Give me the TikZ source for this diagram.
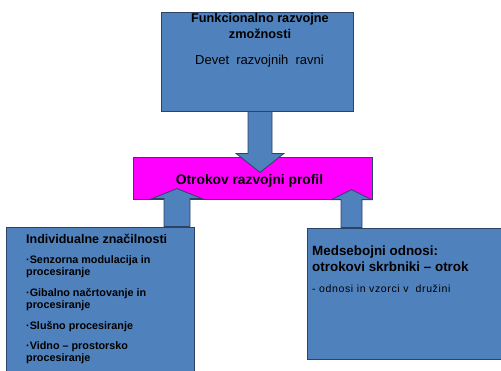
\documentclass[tikz,border=0pt]{standalone}
\usepackage{fontspec}
\setmainfont{Liberation Sans}
\newfontfamily\widefont[LetterSpace=6]{Liberation Sans}
\usetikzlibrary{positioning,calc}
\definecolor{boxblue}{HTML}{4F81BD}
\definecolor{boxline}{HTML}{2C4365}
\definecolor{pinkfill}{RGB}{255,0,255}
\tikzset{box/.style={draw=boxline, fill=boxblue, line width=0.8pt, inner sep=0pt},
         profilbox/.style={box, fill=pinkfill},
         fatarrow/.style={draw=boxline, fill=boxblue, line width=0.8pt},
         txt/.style={anchor=base, inner sep=0pt},
         ltxt/.style={anchor=base west, inner sep=0pt}}
\newcommand{\smallb}{\fontsize{10.8}{12}\selectfont\bfseries}

\begin{document}
\begin{tikzpicture}[x=1pt,y=-1pt]
\useasboundingbox (0,0) rectangle (501,370);
\clip (0,0) rectangle (501,370);

% boxes
\node[box, minimum width=192, minimum height=99] (func) at (257,61.5) {};
\node[profilbox, minimum width=239, minimum height=42] (profil) at (252.5,178) {};
\node[box, minimum width=188, minimum height=160] (indiv) at (100,307) {};
\node[box, minimum width=210, minimum height=131] (odnosi) at (412,293.5) {};

% fat arrows
\coordinate (down) at ($(func.south)+(3,0)$);
\draw[fatarrow] (down) ++(-12,0) -- ++(0,42) -- ++(-12,0) -- ++(24,19)
   -- ++(24,-19) -- ++(-12,0) -- ++(0,-42) -- cycle;
\coordinate (upl) at ($(indiv.north)+(77,0)$);
\draw[fatarrow] (upl) ++(-13,0) -- ++(0,-28) -- ++(-12,0) -- ++(25,-10)
   -- ++(25,10) -- ++(-12,0) -- ++(0,28) -- cycle;
\coordinate (upr) at ($(odnosi.north)+(-60.5,0)$);
\draw[fatarrow] (upr) ++(-10.5,0) -- ++(0,-28) -- ++(-9.5,0) -- ++(20,-10)
   -- ++(20,10) -- ++(-9.5,0) -- ++(0,28) -- cycle;

% texts
\node[txt] (f1) at (260,22) {\fontsize{12.7}{15}\selectfont\bfseries Funkcionalno razvojne};
\node[txt] (f2) at (260,38) {\fontsize{12.7}{15}\selectfont\bfseries zmožnosti};
\node[txt] (f3) at (259.5,64) {\fontsize{13}{15}\selectfont Devet\ \ razvojnih\ \ ravni};
\node[txt] (p1) at (249.5,184) {\fontsize{13.8}{16}\selectfont\bfseries Otrokov razvojni profil};

\node[ltxt] (i0) at (26,243) {\fontsize{12.5}{14}\selectfont\bfseries Individualne značilnosti};
\foreach \y/\t [count=\n] in {263/·Senzorna modulacija in, 275/procesiranje,
    296/·Gibalno načrtovanje in, 308/procesiranje, 329/·Slušno procesiranje,
    349/·Vidno – prostorsko, 361/procesiranje}
  \node[ltxt] (i\n) at (26,\y) {\smallb \t};

\node[ltxt] (o1) at (312,255) {\fontsize{13.4}{15}\selectfont\bfseries Medsebojni odnosi:};
\node[ltxt] (o2) at (312,271) {\fontsize{13.4}{15}\selectfont\bfseries otrokovi skrbniki – otrok};
\node[ltxt] (o3) at (312,292) {\widefont\fontsize{10.5}{12}\selectfont - odnosi in vzorci v\ \ družini};

\end{tikzpicture}
\end{document}
